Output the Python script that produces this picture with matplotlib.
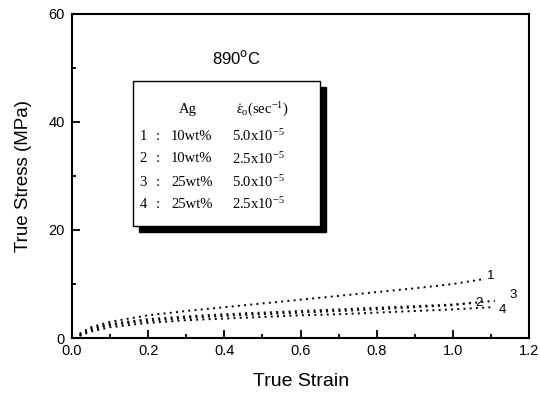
import matplotlib
matplotlib.use("Agg")
import matplotlib.pyplot as plt
from matplotlib.patches import Rectangle

# ---- data ----
strain1 = [0.02, 0.05, 0.1, 0.2, 0.3, 0.4, 0.5, 0.6, 0.7, 0.8, 0.9, 1.0, 1.08]
stress1 = [0.8, 2.0, 3.0, 4.2, 5.0, 5.7, 6.4, 7.1, 7.8, 8.5, 9.2, 10.0, 10.9]
strain2 = [0.02, 0.05, 0.1, 0.2, 0.3, 0.4, 0.5, 0.6, 0.7, 0.8, 0.9, 1.0, 1.05]
stress2 = [0.6, 1.7, 2.6, 3.5, 4.0, 4.4, 4.7, 5.0, 5.3, 5.6, 5.9, 6.2, 6.5]
strain3 = [0.02, 0.05, 0.1, 0.2, 0.3, 0.4, 0.5, 0.6, 0.7, 0.8, 0.9, 1.0, 1.11]
stress3 = [0.5, 1.5, 2.4, 3.2, 3.7, 4.1, 4.4, 4.7, 5.0, 5.3, 5.7, 6.1, 6.9]
strain4 = [0.02, 0.05, 0.1, 0.2, 0.3, 0.4, 0.5, 0.6, 0.7, 0.8, 0.9, 1.0, 1.10]
stress4 = [0.4, 1.2, 2.0, 2.8, 3.3, 3.6, 3.9, 4.2, 4.4, 4.7, 5.0, 5.3, 5.7]

curve_labels = ["1", "2", "3", "4"]
label_pos_x = [1.10, 1.067, 1.158, 1.129]
label_pos_y = [11.5, 6.5, 8.0, 5.2]

xticks = [0.0, 0.2, 0.4, 0.6, 0.8, 1.0, 1.2]
yticks = [0, 20, 40, 60]

table_header = ["Ag", r"$\dot{\varepsilon}_{\rm o}$(sec$^{-1}$)"]
row_ids = ["1", "2", "3", "4"]
row_ag = ["10wt%", "10wt%", "25wt%", "25wt%"]
row_rate = [r"5.0x10$^{-5}$", r"2.5x10$^{-5}$", r"5.0x10$^{-5}$", r"2.5x10$^{-5}$"]

plt.rcParams['font.family'] = ['Liberation Sans', 'DejaVu Sans']
plt.rcParams['mathtext.fontset'] = 'custom'
plt.rcParams['mathtext.rm'] = 'Liberation Serif'
plt.rcParams['mathtext.it'] = 'Liberation Serif:italic'

fig = plt.figure(figsize=(5.4, 3.95), dpi=100)
ax = fig.add_axes([0.1333, 0.1443, 0.8467, 0.8203])

for sx, sy in [(strain1, stress1), (strain2, stress2), (strain3, stress3), (strain4, stress4)]:
    ax.plot(sx, sy, linestyle=(0, (1.0, 2.2)), color='black', lw=1.4)

for lab, lx, ly in zip(curve_labels, label_pos_x, label_pos_y):
    ax.text(lx, ly, lab, fontsize=9.5, ha='center', va='center')

ax.set_xlim(0, 1.2)
ax.set_ylim(0, 60)
ax.set_xticks(xticks)
ax.set_xticklabels([f"{v:.1f}" for v in xticks])
ax.set_yticks(yticks)
ax.set_xticks([0.1, 0.3, 0.5, 0.7, 0.9, 1.1], minor=True)
ax.set_yticks([10, 30, 50], minor=True)
ax.tick_params(which='both', direction='in', labelsize=10.5, width=1.3)
ax.tick_params(which='major', length=6)
ax.tick_params(which='minor', length=3)
ax.tick_params(axis='x', pad=4)
ax.tick_params(axis='y', pad=5)
for s in ax.spines.values():
    s.set_linewidth(1.5)

ax.set_xlabel("True Strain", fontsize=14, labelpad=11)
ax.set_ylabel("True Stress (MPa)", fontsize=13.5, labelpad=12)

# title text
fig.text(236 / 540, 1 - 58 / 395, "890$^{\\rm o}$C", fontsize=12, ha='center', va='center',
         math_fontfamily='dejavusans')

# table box with shadow
W, H = 540, 395
bx0, by0, bx1, by1 = 133, 81, 320, 226
off = 6
fig.patches.append(Rectangle(((bx0 + off) / W, 1 - (by1 + off) / H), (bx1 - bx0) / W, (by1 - by0) / H,
                             transform=fig.transFigure, facecolor='black', edgecolor='black', zorder=5))
fig.patches.append(Rectangle((bx0 / W, 1 - by1 / H), (bx1 - bx0) / W, (by1 - by0) / H,
                             transform=fig.transFigure, facecolor='white', edgecolor='black', lw=1.0, zorder=6))

serif = 'Liberation Serif'
fs = 10.5
fig.text(188 / W, 1 - 110 / H, table_header[0], fontsize=fs, family=serif, ha='center', va='center', zorder=7)
fig.text(262 / W, 1 - 110 / H, table_header[1], fontsize=fs, family=serif, ha='center', va='center', zorder=7)
row_y = [136, 159, 182, 204]
for rid, ag, rate, yy in zip(row_ids, row_ag, row_rate, row_y):
    fig.text(143 / W, 1 - yy / H, rid, fontsize=fs, family=serif, ha='center', va='center', zorder=7)
    fig.text(158 / W, 1 - yy / H, ":", fontsize=fs, family=serif, ha='center', va='center', zorder=7)
    fig.text(171 / W, 1 - yy / H, ag, fontsize=fs, family=serif, ha='left', va='center', zorder=7)
    fig.text(232 / W, 1 - yy / H, rate, fontsize=fs, family=serif, ha='left', va='center', zorder=7)

fig.savefig("out.png", dpi=100)
